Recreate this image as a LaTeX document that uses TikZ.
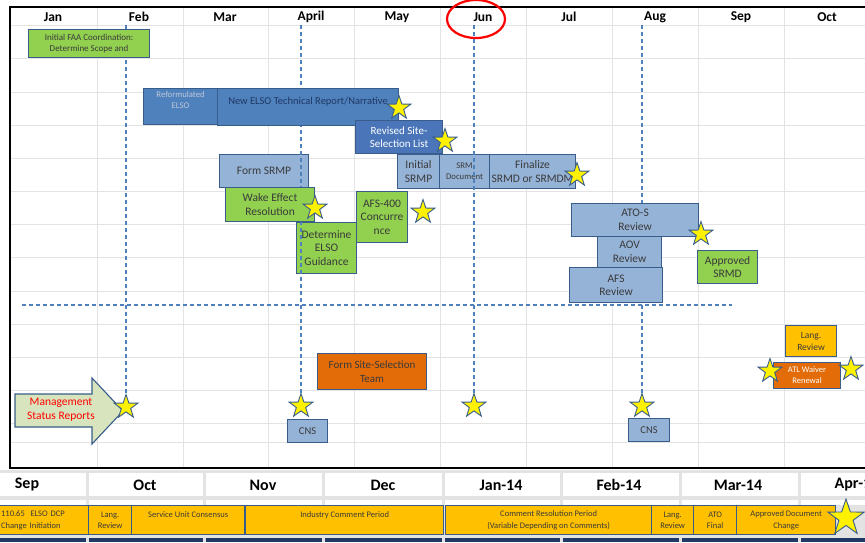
\documentclass[tikz,border=0pt]{standalone}
\usepackage{fontspec}
\setmainfont{Carlito}
\usepackage{tikz}
\usetikzlibrary{positioning}
\usetikzlibrary{shapes.geometric}

\definecolor{shapeline}{HTML}{385D8A}
\definecolor{darkfill}{HTML}{4F81BD}
\definecolor{revisedfill}{HTML}{4A76B9}
\definecolor{lightfill}{HTML}{95B3D7}
\definecolor{greenfill}{HTML}{92D050}
\definecolor{orangefill}{HTML}{E36C09}
\definecolor{amberfill}{HTML}{FFC000}
\definecolor{arrowfill}{HTML}{D7E4BD}
\definecolor{phaseblue}{HTML}{4F81BD}
\definecolor{navyrow}{HTML}{1F3864}
\definecolor{gridgray}{HTML}{E3E3E3}
\definecolor{textdark}{HTML}{3A3A3A}
\definecolor{paletext}{HTML}{BFC9D9}

\begin{document}
\begin{tikzpicture}[x=1pt, y=-1pt,
	task box/.style={draw=shapeline, line width=1.1pt, fill=#1, anchor=north west, align=center,
		inner sep=1pt, text=textdark, font=\fontsize{11.5}{13.5}\selectfont},
	task box/.default=lightfill,
	wh/.style 2 args={minimum width=#1pt, minimum height=#2pt},
	small text/.style={font=\fontsize{8.7}{11}\selectfont},
	mile star/.style={star, star points=5, star point ratio=2.55, fill=yellow, draw=shapeline,
		line width=0.9pt, minimum size=25pt, inner sep=0pt},
	bgline/.style={draw=gridgray, line width=0.8pt},
	phase line/.style={draw=phaseblue, line width=1.1pt, dash pattern=on 4pt off 3pt},
	bar box/.style={draw=shapeline, line width=1.3pt, fill=amberfill, anchor=north west, align=center,
		inner sep=1pt, minimum height=29pt, text=textdark, font=\fontsize{8.5}{11.5}\selectfont},
	month head/.style={font=\bfseries\fontsize{13.5}{15}\selectfont},
	quarter head/.style={font=\bfseries\fontsize{16}{17}\selectfont}]

	\useasboundingbox (0,0) rectangle (865,542);
	\clip (0,0) rectangle (865,542);

	% month grid
	\foreach \x in {97,183,268,354,440,526,612,698,784}
		\draw [bgline] (\x,7) -- (\x,468);
	\foreach \y in {25,58,92,125,158,191,224,257,291,324,357,390,423,442}
		\draw [bgline] (10,\y) -- (865,\y);
	\draw [line width=1.4pt] (865,7) -- (10,7) -- (10,468) -- (865,468);

	\foreach \m [count=\i] in {Jan,Feb,Mar,April,May,Jun,Jul,Aug,Sep,Oct}
		\node [month head] (m\i) at ({-33+86*\i},17) {\m};
	\draw [red, line width=2.2pt] (476,19) ellipse [x radius=29pt, y radius=19pt];

	% boxes under the phase lines
	\node [task box, wh={89}{33}] (formsrmp) at (219,154) {Form SRMP};
	\node [task box=greenfill, wh={60}{51}] (determine) at (296,222) {Determine\\ELSO\\Guidance};
	\node [task box, wh={50}{34}, small text] (srmdoc) at (439,154) {SRM\\Document};

	% phase lines
	\coordinate (febtop) at (126,25);
	\coordinate (aprtop) at (301,25);
	\coordinate (juntop) at (474,25);
	\coordinate (augtop) at (642,25);
	\coordinate (msfeb) at (126,407);
	\coordinate (msapr) at (301,406);
	\coordinate (msjun) at (474,406);
	\coordinate (msaug) at (642,406);
	\coordinate (splitwest) at (22,305);
	\coordinate (spliteast) at (732,305);
	\draw [phase line] (febtop) -- (msfeb);
	\draw [phase line] (aprtop) -- (msapr);
	\draw [phase line] (juntop) -- (msjun);
	\draw [phase line] (augtop) -- (msaug);
	\draw [phase line] (splitwest) -- (spliteast);

	% tasks
	\node [task box=greenfill, wh={121}{28}, font=\fontsize{9}{11}\selectfont] (initfaa) at (28,29) {Initial FAA Coordination:\\Determine Scope and};
	\node [task box=darkfill, wh={74}{36}, small text, text=paletext] (reformelso) at (143,88) {Reformulated\\ELSO\\[3pt]};
	\node [task box=darkfill, wh={181}{37}, font=\fontsize{10.5}{13}\selectfont, text=navyrow] (newelso) at (217,88) {New ELSO Technical Report/Narrative\\~};
	\node [task box=revisedfill, wh={87}{33}, font=\fontsize{11}{13.5}\selectfont, text=white] (revised) at (355,120) {Revised Site-\\Selection List};
	\node [task box, wh={42}{34}] (initsrmp) at (397,154) {Initial\\SRMP};
	\node [task box, wh={86}{34}] (finalize) at (489,154) {Finalize\\SRMD or SRMDM};
	\node [task box=greenfill, wh={89}{34}] (wake) at (225,187) {Wake Effect\\Resolution};
	\node [task box=greenfill, wh={51}{51}] (afsfourhundred) at (356,191) {AFS-400\\Concurre\\nce};
	\node [task box, wh={127}{33}] (atos) at (571,203) {ATO-S\\Review};
	\node [task box, wh={64}{31}] (aov) at (597,236) {AOV\\Review};
	\node [task box, wh={93}{35}] (afs) at (569,267) {AFS\\Review};
	\node [task box=greenfill, wh={60}{33}] (apprsrmd) at (697,250) {Approved\\SRMD};
	\node [task box=orangefill, wh={109}{36}, font=\fontsize{11}{13.5}\selectfont] (siteteam) at (317,353) {Form Site-Selection\\Team};
	\node [task box, wh={40}{23}, font=\fontsize{10.5}{12}\selectfont] (cnswest) at (287,419) {CNS};
	\node [task box, wh={41}{23}, font=\fontsize{10.5}{12}\selectfont] (cnseast) at (628,418) {CNS};
	\node [task box=amberfill, wh={51}{31}, font=\fontsize{9.5}{12}\selectfont] (langrev) at (785,325) {Lang.\\Review};
	\node [task box=orangefill, wh={67}{26}, font=\fontsize{8.5}{11}\selectfont, text=white] (atlwaiver) at (773,362) {ATL Waiver\\Renewal};

	\draw [draw=shapeline, line width=1.1pt, fill=arrowfill] (15,394) -- (92,394) -- (92,378) -- (123,411)
		-- (92,444) -- (92,427) -- (15,427) -- cycle;
	\node [text=red, align=center, font=\fontsize{11.5}{14}\selectfont] (mgmt) at (61,410) {Management\\Status Reports};

	% milestones
	\node [mile star] (starelso) at (399,108) {};
	\node [mile star] (starrevised) at (445,141) {};
	\node [mile star] (starfinal) at (577,175) {};
	\node [mile star] (starwake) at (315,208) {};
	\node [mile star] (starafs) at (423,212) {};
	\node [mile star] (staratos) at (701,234) {};
	\node [mile star] (starfeb) at (msfeb) {};
	\node [mile star] (starapr) at (msapr) {};
	\node [mile star] (starjun) at (msjun) {};
	\node [mile star] (staraug) at (msaug) {};
	\node [mile star] (staratlw) at (770,371) {};
	\node [mile star] (staratle) at (851,369) {};

	% DCP strip
	\fill [gray!22] (0,470) rectangle (865,542);
	\foreach \l/\r in {-5/86, 89/203, 206/322, 325/442, 445/560, 563/679, 682/798, 801/870} {
		\fill [white] (\l,473) rectangle (\r,496);
		\fill [white] (\l,500) rectangle (\r,505);
		\fill [navyrow] (\l,538) rectangle (\r,542);
	}
	\foreach \x/\m [count=\i] in {27/Sep, 145/Oct, 263/Nov, 383/Dec, 501/Jan-14, 619/Feb-14, 738/Mar-14, 857/Apr-14}
		\node [quarter head] (q\i) at (\x,485) {\m};

	\node [bar box, minimum width=91pt, text width=86pt, align=left] (dcpinit) at (-2,505) {110.65 \ ELSO DCP\\Change Initiation};
	\node [bar box, minimum width=43pt] (langone) at (88,505) {Lang.\\Review};
	\node [bar box, minimum width=113pt] (sucons) at (131,505) {Service Unit Consensus\\~};
	\node [bar box, minimum width=198pt] (industry) at (245,505) {Industry Comment Period\\~};
	\node [bar box, minimum width=206pt] (resolution) at (445,505) {Comment Resolution Period\\(Variable Depending on Comments)};
	\node [bar box, minimum width=42pt] (langtwo) at (651,505) {Lang.\\Review};
	\node [bar box, minimum width=43pt] (atofinal) at (693,505) {ATO\\Final};
	\node [bar box, minimum width=99pt] (apprdoc) at (736,505) {Approved Document\\Change};
	\node [mile star, minimum size=38pt] (stardoc) at (846,518) {};
\end{tikzpicture}
\end{document}
